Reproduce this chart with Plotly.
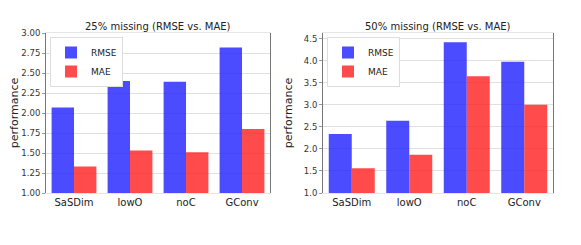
import plotly.graph_objects as go

categories = ["SaSDim", "lowO", "noC", "GConv"]
rmse_25 = [2.07, 2.40, 2.39, 2.82]
mae_25 = [1.33, 1.53, 1.51, 1.80]
rmse_50 = [2.34, 2.64, 4.42, 3.98]
mae_50 = [1.56, 1.87, 3.65, 3.00]
titles = ["25% missing (RMSE vs. MAE)", "50% missing (RMSE vs. MAE)"]

BLUE = "rgba(30,30,255,0.8)"
RED = "rgba(255,30,30,0.8)"
FONT = "DejaVu Sans"

fig = go.Figure()

fig.add_trace(go.Bar(x=categories, y=rmse_25, name="RMSE", marker=dict(color=BLUE, line=dict(width=0)),
                     xaxis="x", yaxis="y", legend="legend"))
fig.add_trace(go.Bar(x=categories, y=mae_25, name="MAE", marker=dict(color=RED, line=dict(width=0)),
                     xaxis="x", yaxis="y", legend="legend"))
fig.add_trace(go.Bar(x=categories, y=rmse_50, name="RMSE", marker=dict(color=BLUE, line=dict(width=0)),
                     xaxis="x2", yaxis="y2", legend="legend2"))
fig.add_trace(go.Bar(x=categories, y=mae_50, name="MAE", marker=dict(color=RED, line=dict(width=0)),
                     xaxis="x2", yaxis="y2", legend="legend2"))

# page body has an 8px default margin; figure is sized to fit the window
OFF = 8
W, H = 581 - OFF, 245 - OFF
ML = 46 - OFF
MT = 33 - OFF
MB = H - (193 - OFF)
MR = W - (553 - OFF)
PW = W - ML - MR
PH = H - MT - MB
xd1 = [0, 224 / PW]
xd2 = [277 / PW, 1]

def px_x(x):
    return (x - 46) / PW

def px_y(y):
    return (193 - y) / PH

xcommon = dict(showgrid=False, showline=True, linecolor="#e6e6e6", linewidth=1, mirror=True,
               ticks="", tickfont=dict(family=FONT, size=10, color="#222"), zeroline=False,
               automargin=False)
ycommon = dict(showgrid=True, gridcolor="#e0e0e0", gridwidth=1, showline=True, linecolor="#777",
               linewidth=1, mirror=True, ticks="outside", ticklen=3, tickcolor="#999",
               tickfont=dict(family=FONT, size=8.5, color="#333"), zeroline=False, automargin=False,
               title=dict(text="performance", font=dict(family=FONT, size=11, color="#222"), standoff=8))

legend_common = dict(xanchor="left", yanchor="top", bgcolor="white", bordercolor="#ddd", borderwidth=1,
                     font=dict(family=FONT, size=9, color="#222"), itemwidth=30, tracegroupgap=0)

fig.update_layout(
    width=W, height=H,
    margin=dict(l=ML, r=MR, t=MT, b=MB),
    paper_bgcolor="white", plot_bgcolor="white",
    barmode="group", bargap=0.2, bargroupgap=0,
    xaxis=dict(domain=xd1, anchor="y", **xcommon),
    yaxis=dict(domain=[0, 1], anchor="x", range=[1.0, 3.0], dtick=0.25, tickformat=".2f", **ycommon),
    xaxis2=dict(domain=xd2, anchor="y2", **xcommon),
    yaxis2=dict(domain=[0, 1], anchor="x2", range=[1.0, 4.63], dtick=0.5, tickformat=".1f", **ycommon),
    legend=dict(x=px_x(50), y=px_y(37), **legend_common),
    legend2=dict(x=px_x(327), y=px_y(37), **legend_common),
    annotations=[
        dict(text=titles[0], x=(xd1[0] + xd1[1]) / 2, y=px_y(27), xref="paper", yref="paper",
             xanchor="center", yanchor="middle", showarrow=False,
             font=dict(family=FONT, size=10, color="#222")),
        dict(text=titles[1], x=(xd2[0] + xd2[1]) / 2, y=px_y(27), xref="paper", yref="paper",
             xanchor="center", yanchor="middle", showarrow=False,
             font=dict(family=FONT, size=10, color="#222")),
    ],
)

fig.write_html("out.html")
